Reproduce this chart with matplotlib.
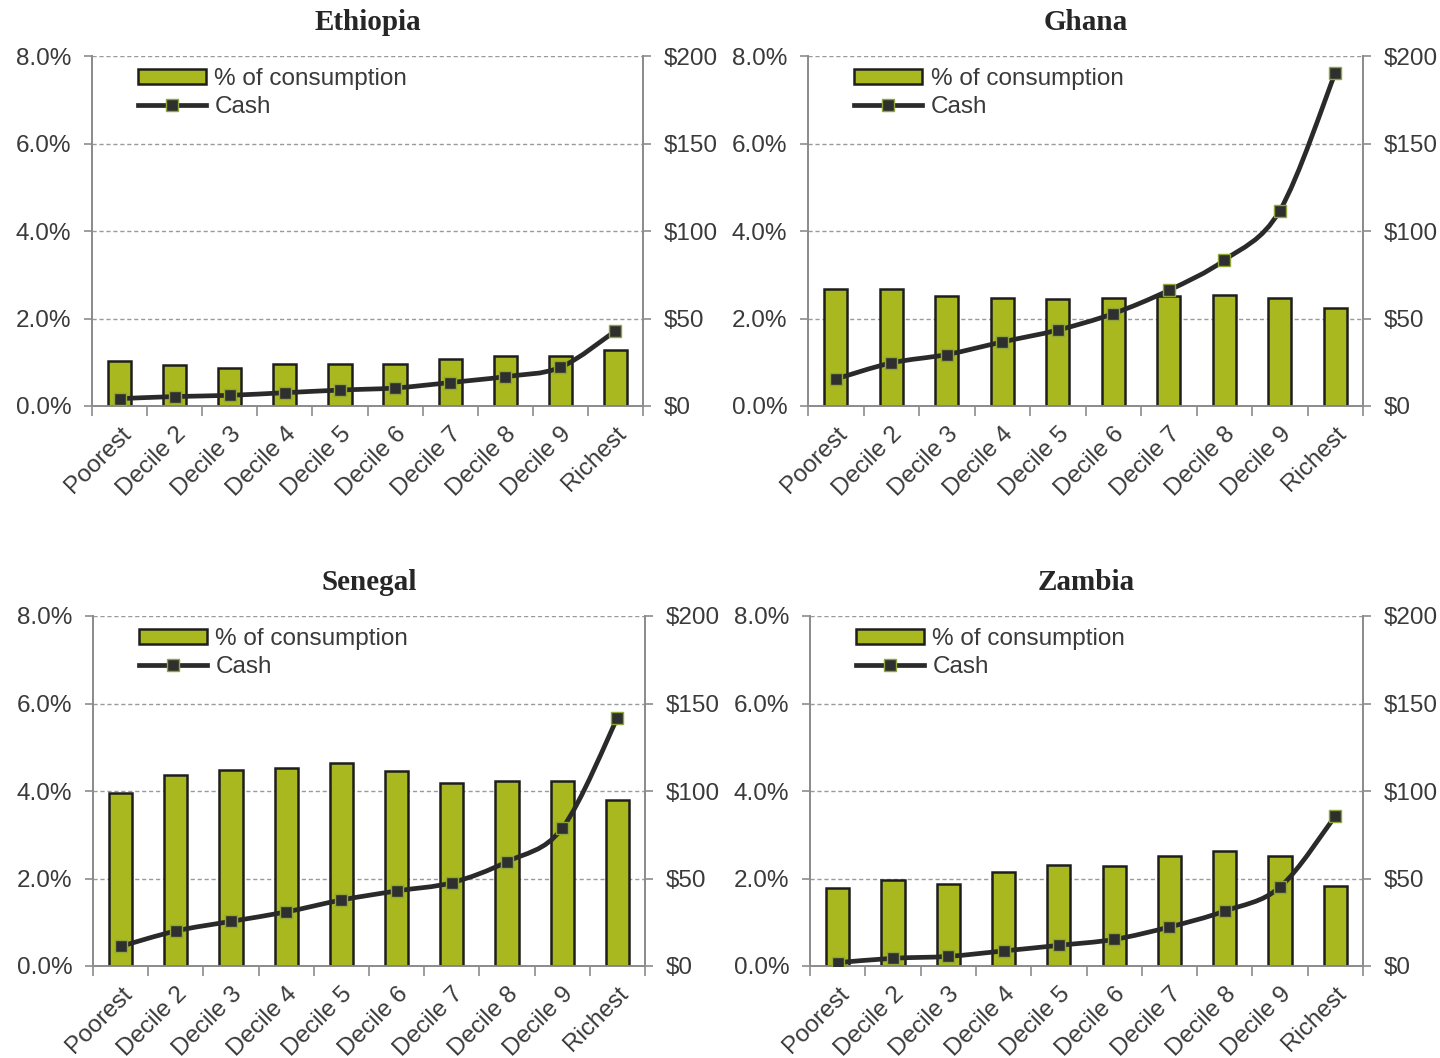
import matplotlib
matplotlib.use("Agg")
import matplotlib.pyplot as plt
from matplotlib.path import Path
from matplotlib.patches import PathPatch
from matplotlib.lines import Line2D
from matplotlib.patches import Patch
from matplotlib.ticker import FuncFormatter, FixedLocator
import numpy as np

categories = ["Poorest", "Decile 2", "Decile 3", "Decile 4", "Decile 5",
              "Decile 6", "Decile 7", "Decile 8", "Decile 9", "Richest"]

countries = ["Ethiopia", "Ghana", "Senegal", "Zambia"]

# Share of consumption (%) by decile
ethiopia_pct = [1.02, 0.93, 0.88, 0.95, 0.97, 0.95, 1.07, 1.14, 1.14, 1.29]
ghana_pct = [2.68, 2.67, 2.51, 2.48, 2.44, 2.46, 2.51, 2.53, 2.48, 2.23]
senegal_pct = [3.96, 4.37, 4.47, 4.52, 4.63, 4.46, 4.19, 4.22, 4.22, 3.80]
zambia_pct = [1.78, 1.96, 1.87, 2.14, 2.30, 2.28, 2.51, 2.63, 2.51, 1.84]

# Cash value ($) by decile
ethiopia_cash = [4.2, 5.4, 6.1, 7.6, 9.1, 10.3, 13.4, 16.8, 22.1, 42.9]
ghana_cash = [15.4, 24.6, 29.4, 36.6, 43.4, 52.8, 66.1, 83.3, 111.6, 190.3]
senegal_cash = [11.2, 20.0, 25.5, 30.9, 37.7, 42.9, 47.6, 59.6, 78.7, 141.7]
zambia_cash = [1.9, 4.4, 5.5, 8.6, 11.8, 15.2, 22.3, 31.4, 45.1, 85.7]

pct_ticks = [0, 2, 4, 6, 8]
cash_ticks = [0, 50, 100, 150, 200]

pct_data = [ethiopia_pct, ghana_pct, senegal_pct, zambia_pct]
cash_data = [ethiopia_cash, ghana_cash, senegal_cash, zambia_cash]

BAR_COLOR = "#a9b81f"
EDGE_COLOR = "#1e1e1e"
LINE_COLOR = "#2a2a2a"
AXIS_COLOR = "#8c8c8c"
TEXT_COLOR = "#3a3a3a"
SANS = "Liberation Sans"
SERIF = "Liberation Serif"
FS = 17.5


def smooth_path(x, y):
    """Cubic Bezier path through the points (Catmull-Rom tangents)."""
    pts = np.column_stack([x, y]).astype(float)
    n = len(pts)
    verts = [pts[0]]
    codes = [Path.MOVETO]
    for i in range(n - 1):
        p0 = pts[i - 1] if i > 0 else pts[i]
        p1 = pts[i]
        p2 = pts[i + 1]
        p3 = pts[i + 2] if i + 2 < n else pts[i + 1]
        c1 = p1 + (p2 - p0) / 6.0
        c2 = p2 - (p3 - p1) / 6.0
        verts += [c1, c2, p2]
        codes += [Path.CURVE4] * 3
    return Path(verts, codes)


fig = plt.figure(figsize=(14.4, 10.58), dpi=100)
fig.patch.set_facecolor("white")

W, H = 1440, 1058
boxes = [(92, 56, 643, 406), (808, 56, 1363, 406),
         (93, 616, 645, 966), (810, 616, 1363, 966)]

x = np.arange(len(categories))

for name, box, pct, cash in zip(countries, boxes, pct_data, cash_data):
    l, t, r, b = box
    ax = fig.add_axes([l / W, 1 - b / H, (r - l) / W, (b - t) / H])
    ax2 = ax.twinx()

    ax.bar(x, pct, width=0.42, color=BAR_COLOR, edgecolor=EDGE_COLOR,
           linewidth=1.8, zorder=3)
    ax.set_xlim(-0.5, len(categories) - 0.5)
    ax.set_ylim(0, 8)
    ax2.set_ylim(0, 200)

    # horizontal grid
    for v in pct_ticks[1:]:
        ax.axhline(v, color="#9a9a9a", lw=1.0, ls=(0, (3, 2)), zorder=1)

    # spines
    for a in (ax, ax2):
        a.spines["top"].set_visible(False)
        for s in ("left", "right", "bottom"):
            a.spines[s].set_color(AXIS_COLOR)
            a.spines[s].set_linewidth(1.3)

    ax.yaxis.set_major_locator(FixedLocator(pct_ticks))
    ax.yaxis.set_major_formatter(FuncFormatter(lambda v, p: f"{v:.1f}%"))
    ax2.yaxis.set_major_locator(FixedLocator(cash_ticks))
    ax2.yaxis.set_major_formatter(FuncFormatter(lambda v, p: f"${v:.0f}"))

    ax.tick_params(axis="y", direction="out", length=6, width=1.2,
                   color=AXIS_COLOR, labelsize=FS, labelcolor=TEXT_COLOR, pad=9)
    ax2.tick_params(axis="y", direction="out", length=6, width=1.2,
                    color=AXIS_COLOR, labelsize=FS, labelcolor=TEXT_COLOR, pad=9)
    for lab in ax.get_yticklabels() + ax2.get_yticklabels():
        lab.set_fontfamily(SANS)

    # category labels at centers, tick marks at boundaries
    ax.set_xticks(x)
    ax.set_xticks(np.arange(-0.5, len(categories), 1.0), minor=True)
    ax.tick_params(axis="x", which="major", length=0, pad=12)
    ax.tick_params(axis="x", which="minor", direction="out", length=7,
                   width=1.2, color=AXIS_COLOR)
    ax.set_xticklabels(categories, rotation=45, ha="right",
                       rotation_mode="anchor", fontsize=FS,
                       color=TEXT_COLOR, fontfamily=SANS)
    for lab in ax.get_xticklabels():
        lab.set_x(lab.get_position()[0] + 0.12)

    # cash line, smoothed
    path = smooth_path(x, cash)
    ax2.add_patch(PathPatch(path, facecolor="none", edgecolor=LINE_COLOR,
                            lw=3.4, capstyle="round", joinstyle="round",
                            zorder=4))
    ax2.plot(x, cash, ls="none", marker="s", ms=8, mfc="#2f2f2f",
             mec="#8fa63a", mew=1.0, zorder=5)

    ax.set_title(name, fontfamily=SERIF, fontweight="bold", fontsize=21,
                 color="#262626", pad=19)

    handles = [
        Patch(facecolor=BAR_COLOR, edgecolor=EDGE_COLOR, linewidth=1.8,
              label="% of consumption"),
        Line2D([0], [0], color=LINE_COLOR, lw=3.4, marker="s", ms=8,
               mfc="#2f2f2f", mec="#8fa63a", mew=1.0, label="Cash"),
    ]
    leg = ax2.legend(handles=handles, loc="upper left",
                     bbox_to_anchor=(0.083, 0.965), frameon=False,
                     prop={"family": SANS, "size": FS},
                     handlelength=2.8, handleheight=0.6, handletextpad=0.35,
                     labelspacing=0.25, borderpad=0.0, borderaxespad=0.0)
    for t in leg.get_texts():
        t.set_color(TEXT_COLOR)

fig.savefig("out.png", dpi=100, facecolor="white")
